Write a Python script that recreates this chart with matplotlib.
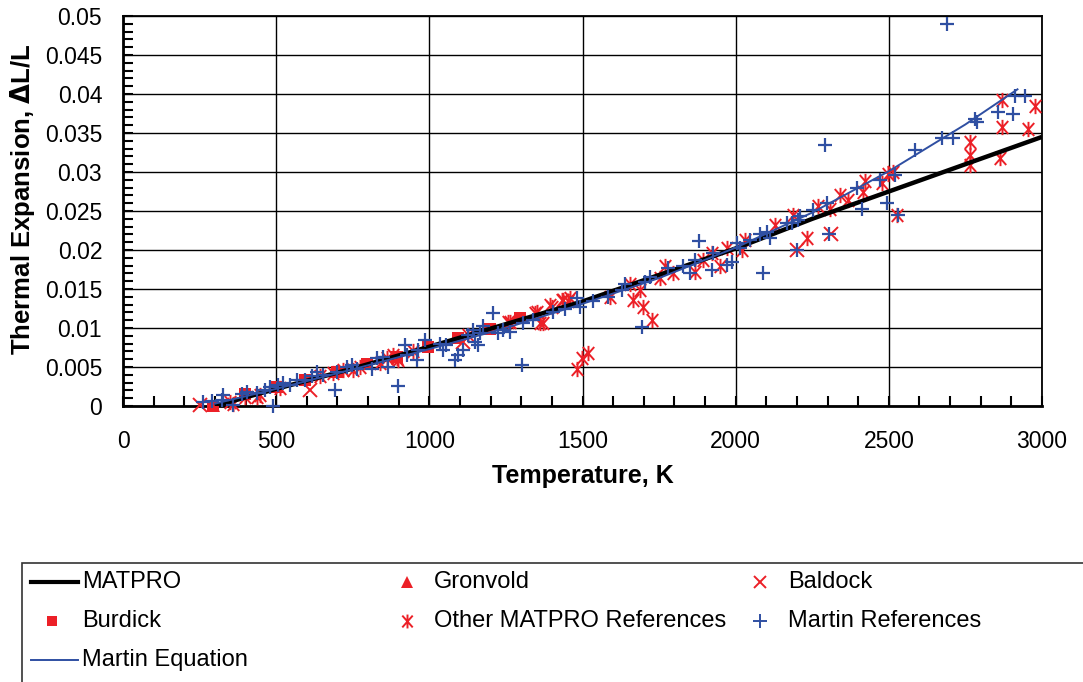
import matplotlib
matplotlib.use("Agg")
import matplotlib.pyplot as plt
from matplotlib.path import Path
from matplotlib.lines import Line2D
from matplotlib.patches import Rectangle
from matplotlib.ticker import MultipleLocator, FuncFormatter

plt.rcParams['font.family'] = ['Liberation Sans', 'DejaVu Sans']

# ---------------- data ----------------
matpro_T = [300, 500, 750, 1000, 1250, 1500, 1750, 2000, 2250, 2500, 2750, 3000]
matpro_v = [0.0, 0.0022, 0.0048, 0.0076, 0.0105, 0.0134, 0.0168, 0.0202, 0.0240, 0.0275, 0.0310, 0.0345]

martin_eq_T = [300, 500, 750, 1000, 1250, 1500, 1750, 2000, 2250, 2500, 2750, 2920]
martin_eq_v = [0.0003, 0.0022, 0.0047, 0.0073, 0.0100, 0.0131, 0.0164, 0.0203, 0.0248, 0.0301, 0.0361, 0.0406]

gronvold_T = [298]
gronvold_v = [0.0]

burdick_T = [295, 398, 502, 594, 697, 796, 893, 997, 1095, 1198, 1296]
burdick_v = [0.0, 0.0015, 0.0025, 0.0033, 0.0043, 0.0054, 0.0063, 0.0076, 0.0087, 0.0099, 0.0113]

baldock_T = [251, 612, 1111, 2200, 2310]
baldock_v = [0.0001, 0.0021, 0.0082, 0.0200, 0.0220]

other_T = [349, 360, 398, 436, 447, 512, 643, 687, 719, 752, 773, 839, 861, 882, 893, 899, 948,
           1127, 1258, 1263, 1345, 1350, 1361, 1372, 1394, 1400, 1432, 1437, 1454, 1459,
           1481, 1497, 1519, 1590, 1655, 1666, 1688, 1699, 1726, 1753, 1769, 1797, 1867,
           1894, 1922, 1949, 1971, 2020, 2030, 2128, 2188, 2232, 2270, 2308, 2341, 2368,
           2417, 2422, 2477, 2498, 2515, 2526, 2765, 2765, 2765, 2863, 2868, 2868, 2955, 2977]
other_v = [0.00055, 0.0003, 0.0012, 0.0012, 0.0014, 0.0023, 0.0038, 0.0042, 0.0046, 0.0046, 0.0050,
           0.0055, 0.0061, 0.0065, 0.0061, 0.0059, 0.0070,
           0.0091, 0.0108, 0.0108, 0.0119, 0.0121, 0.0106, 0.0106, 0.0129, 0.0127, 0.0136, 0.0136,
           0.0134, 0.0138, 0.0048, 0.0061, 0.0068, 0.0140, 0.0157, 0.0136, 0.0149, 0.0127,
           0.0110, 0.0164, 0.0179, 0.0170, 0.0172, 0.0187, 0.0196, 0.0179, 0.0202, 0.0200,
           0.0213, 0.0232, 0.0245, 0.0215, 0.0256, 0.0253, 0.0271, 0.0264, 0.0275, 0.0288,
           0.0286, 0.0298, 0.0300, 0.0245, 0.0339, 0.0322, 0.0309, 0.0318, 0.0392, 0.0358,
           0.0355, 0.0385]

martin_ref_T = [262, 290, 322, 327, 360, 387, 404, 436, 464, 480, 491, 507, 523, 545, 567, 594,
                616, 632, 654, 692, 698, 730, 747, 763, 812, 828, 850, 866, 899, 921, 926,
                959, 964, 986, 1035, 1046, 1056, 1084, 1095, 1111, 1127, 1144, 1149, 1160,
                1165, 1176, 1209, 1225, 1241, 1263, 1301, 1307, 1340, 1405, 1443, 1481, 1492,
                1535, 1584, 1628, 1639, 1693, 1704, 1720, 1780, 1829, 1851, 1867, 1881, 1922,
                1927, 1971, 1987, 2003, 2014, 2047, 2079, 2088, 2101, 2112, 2167, 2183, 2199,
                2204, 2210, 2253, 2292, 2297, 2306, 2395, 2411, 2471, 2493, 2520, 2531, 2585,
                2673, 2690, 2711, 2781, 2787, 2857, 2906, 2912, 2945]
martin_ref_v = [0.00055, 0.00068, 0.00077, 0.0014, 0.00013, 0.0016, 0.0018, 0.0017, 0.0021,
                0.0025, 0.0, 0.0027, 0.0029, 0.0027, 0.0033, 0.0033, 0.0038, 0.0043, 0.0040,
                0.0021, 0.0044, 0.0050, 0.0053, 0.0048, 0.0048, 0.0061, 0.0063, 0.0050,
                0.0026, 0.0078, 0.0065, 0.0059, 0.0072, 0.0085, 0.0080, 0.0072, 0.0078,
                0.0059, 0.0065, 0.0072, 0.0091, 0.0097, 0.0082, 0.0078, 0.0093, 0.0102,
                0.0119, 0.0093, 0.0097, 0.0095, 0.0053, 0.0106, 0.0110, 0.0121, 0.0125,
                0.0138, 0.0127, 0.0134, 0.0140, 0.0149, 0.0157, 0.0101, 0.0159, 0.0166,
                0.0177, 0.0179, 0.0170, 0.0187, 0.0212, 0.0174, 0.0196, 0.0181, 0.0185,
                0.0209, 0.0202, 0.0213, 0.0221, 0.0171, 0.0223, 0.0215, 0.0234, 0.0234,
                0.0200, 0.0238, 0.0243, 0.0251, 0.0335, 0.0260, 0.0221, 0.0279, 0.0253,
                0.0290, 0.0260, 0.0296, 0.0245, 0.0328, 0.0344, 0.0490, 0.0344, 0.0368,
                0.0364, 0.0377, 0.0375, 0.0397, 0.0397]

# ---------------- style ----------------
RED = '#EC2027'
BLUE = '#2F4FA2'

ast_path = Path([(0, -1), (0, 1), (-0.75, -0.85), (0.75, 0.85), (-0.75, 0.85), (0.75, -0.85)],
                [Path.MOVETO, Path.LINETO, Path.MOVETO, Path.LINETO, Path.MOVETO, Path.LINETO])

fig = plt.figure(figsize=(10.83, 6.82), dpi=100)
ax = fig.add_axes([123/1083, 1 - 406/682, (1042-123)/1083, (406-16)/682])

ax.plot(other_T, other_v, linestyle='none', marker=ast_path, ms=11, mew=1.4,
        color=RED, clip_on=False, zorder=3)
ax.plot(baldock_T, baldock_v, linestyle='none', marker='x', ms=10, mew=1.4,
        color=RED, clip_on=False, zorder=3)
ax.plot(burdick_T, burdick_v, linestyle='none', marker='s', ms=8, mew=0,
        color=RED, clip_on=False, zorder=3)
ax.plot(gronvold_T, gronvold_v, linestyle='none', marker='^', ms=8, mew=0,
        color=RED, clip_on=False, zorder=3)
ax.plot(matpro_T, matpro_v, color='black', lw=3.2, zorder=4, solid_capstyle='butt')
ax.plot(martin_ref_T, martin_ref_v, linestyle='none', marker='+', ms=10, mew=1.6,
        color=BLUE, clip_on=False, zorder=5)
ax.plot(martin_eq_T, martin_eq_v, color=BLUE, lw=1.4, zorder=6)

ax.set_xlim(0, 3000)
ax.set_ylim(0, 0.05)
ax.xaxis.set_major_locator(MultipleLocator(500))
ax.xaxis.set_minor_locator(MultipleLocator(100))
ax.yaxis.set_major_locator(MultipleLocator(0.005))
ax.yaxis.set_minor_locator(MultipleLocator(0.001))
ax.yaxis.set_major_formatter(FuncFormatter(lambda v, p: '0' if abs(v) < 1e-12 else ('%.3f' % v).rstrip('0')))
ax.grid(True, which='major', color='black', lw=1.0)
ax.set_axisbelow(True)
ax.tick_params(which='both', direction='in', length=7, width=1.5, labelsize=16.5)
ax.tick_params(axis='x', pad=17)
ax.tick_params(axis='y', pad=15)
for sp in ax.spines.values():
    sp.set_linewidth(1.3)
ax.spines['bottom'].set_linewidth(2)
ax.spines['left'].set_linewidth(2)

ax.set_xlabel('Temperature, K', fontsize=18, fontweight='bold', labelpad=8)
ax.set_ylabel('Thermal Expansion, $\\mathbf{\\Delta}$L/L', fontsize=18.5, fontweight='bold')
ax.yaxis.set_label_coords(-0.094, 0.53)

# ---------------- legend (manual, Excel-like) ----------------
W, H = 1083.0, 682.0
def fx(px):
    return px / W
def fy(py):
    return 1 - py / H

fig.add_artist(Rectangle((fx(22), fy(700)), fx(1100) - fx(22), fy(563) - fy(700),
                         transform=fig.transFigure, fill=False, edgecolor='#333333', lw=1.2,
                         clip_on=False))

rows = [582, 621, 660]
cols_text = [82, 434, 788]
entries = [
    (0, 0, 'MATPRO', dict(kind='line', color='black', lw=3)),
    (0, 1, 'Burdick', dict(kind='marker', marker='s', color=RED, ms=7, mew=0)),
    (0, 2, 'Martin Equation', dict(kind='line', color=BLUE, lw=1.4)),
    (1, 0, 'Gronvold', dict(kind='marker', marker='^', color=RED, ms=8, mew=0)),
    (1, 1, 'Other MATPRO References', dict(kind='marker', marker=ast_path, color=RED, ms=10, mew=1.4)),
    (2, 0, 'Baldock', dict(kind='marker', marker='x', color=RED, ms=9, mew=1.4)),
    (2, 1, 'Martin References', dict(kind='marker', marker='+', color=BLUE, ms=10, mew=1.4)),
]
marker_x = [52, 407, 760]
for c, r, label, st in entries:
    y = fy(rows[r])
    if st['kind'] == 'line':
        fig.add_artist(Line2D([fx(31), fx(78)], [y, y], transform=fig.transFigure,
                              color=st['color'], lw=st['lw']))
    else:
        fig.add_artist(Line2D([fx(marker_x[c])], [y], transform=fig.transFigure,
                              linestyle='none', marker=st['marker'], color=st['color'],
                              ms=st['ms'], mew=st['mew']))
    fig.text(fx(cols_text[c]), y, label, fontsize=17, va='center', ha='left')

fig.savefig('out.png', dpi=100)
